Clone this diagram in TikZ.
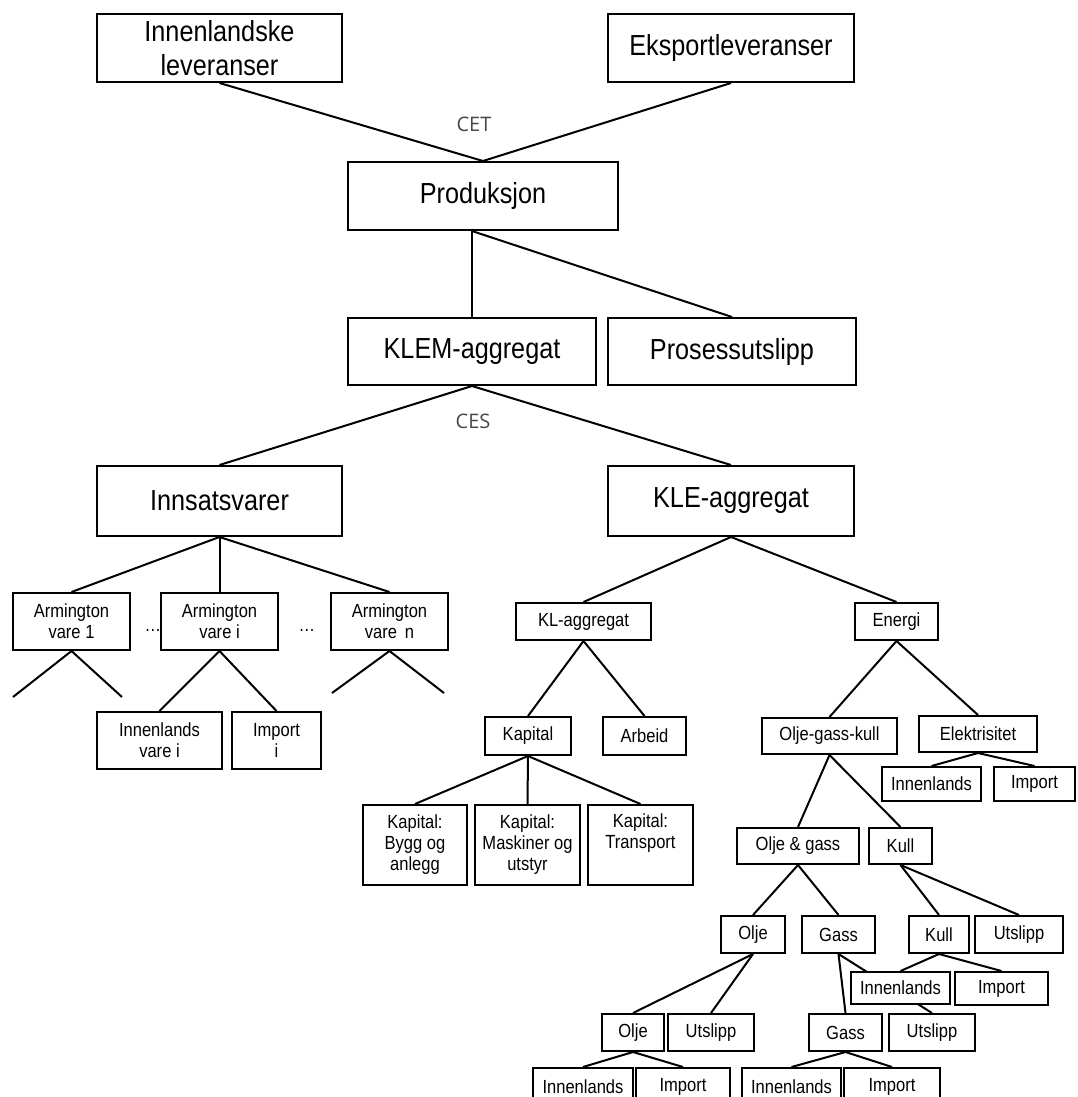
\documentclass[tikz,border=0pt]{standalone}
\usepackage{fontspec}
\setmainfont{Liberation Sans}[FakeStretch=0.87]
\newfontfamily\labelfont{Open Sans}
\usetikzlibrary{backgrounds}
\begin{document}
\begin{tikzpicture}[x=1pt,y=-1pt,
  box/.style={draw=black, line width=2pt, fill=white, inner sep=0pt, align=center},
  big/.style={box, font=\fontsize{29}{34}\selectfont},
  small/.style={box, font=\fontsize{19}{21}\selectfont},
  link/.style={line width=2pt, black},
  elast/.style={font=\labelfont\fontsize{20}{22}\selectfont, text=black!72},
  dots/.style={font=\fontsize{19}{20}\selectfont, inner sep=0pt}]
\useasboundingbox (0,0) rectangle (1078,1097);

% top level
\node[big, minimum width=245pt, minimum height=68pt] (inn)  at (219.5,48) {Innenlandske\\leveranser};
\node[big, minimum width=246pt, minimum height=68pt] (eks)  at (731,48)   {Eksportleveranser};
\node[big, minimum width=270pt, minimum height=68pt] (prod) at (483,196)  {Produksjon};
\node[big, minimum width=248pt, minimum height=67pt] (klem) at (472,351.5) {KLEM-aggregat};
\node[big, minimum width=248pt, minimum height=67pt] (pros) at (732,351.5) {Prosessutslipp};
\node[big, minimum width=245pt, minimum height=70pt] (innsats) at (219.5,501) {Innsatsvarer};
\node[big, minimum width=246pt, minimum height=70pt] (kle)  at (731,501)  {KLE-aggregat};

\node[elast] (cet) at (474,124) {CET};
\node[elast] (ces) at (473,421) {CES};

% intermediate goods
\node[dots] (d1) at (153,630) {…};
\node[dots] (d2) at (307,630) {…};
\node[small, minimum width=117pt, minimum height=57pt] (arm1) at (71.5,621.5)  {Armington\\vare 1};
\node[small, minimum width=117pt, minimum height=57pt] (armi) at (219.5,621.5) {Armington\\vare i};
\node[small, minimum width=117pt, minimum height=57pt] (armn) at (389.5,621.5) {Armington\\vare\, n};
\node[small, minimum width=125pt, minimum height=57pt] (innv) at (159.5,740.5) {Innenlands\\vare i};
\node[small, minimum width=89pt,  minimum height=57pt] (impi) at (276.5,740.5) {Import\\i};
\coordinate (a1l) at (13,697);
\coordinate (a1r) at (122,697);
\coordinate (anl) at (332,693);
\coordinate (anr) at (444,693);

% capital and labour
\node[small, minimum width=135pt, minimum height=37pt] (kl)   at (583.5,621.5) {KL-aggregat};
\node[small, minimum width=86pt,  minimum height=38pt] (kap)  at (528,736)     {Kapital};
\node[small, minimum width=83pt,  minimum height=38pt] (arb)  at (644.5,736)   {Arbeid};
\node[small, minimum width=104pt, minimum height=80pt] (kbygg)  at (415,845)   {Kapital:\\Bygg og\\anlegg};
\node[small, minimum width=105pt, minimum height=80pt] (kmask)  at (527.5,845) {Kapital:\\Maskiner og\\utstyr};
\node[small, minimum width=105pt, minimum height=80pt] (ktrans) at (640.5,845) {Kapital:\\Transport\\\strut};

% energy
\node[small, minimum width=83pt,  minimum height=37pt] (energi) at (896.5,621.5) {Energi};
\node[small, minimum width=135pt, minimum height=36pt] (ogk)  at (829.5,736)  {Olje-gass-kull};
\node[small, minimum width=118pt, minimum height=36pt] (elek) at (978,734)    {Elektrisitet};
\node[small, minimum width=99pt,  minimum height=34pt] (inne) at (931.5,784)  {Innenlands};
\node[small, minimum width=81pt,  minimum height=34pt] (impe) at (1034.5,784) {Import};
\node[small, minimum width=122pt, minimum height=36pt] (og)    at (798,846)   {Olje \& gass};
\node[small, minimum width=63pt,  minimum height=36pt] (kull1) at (900.5,846) {Kull};
\node[small, minimum width=64pt,  minimum height=37pt] (olje1) at (753,934.5)  {Olje};
\node[small, minimum width=73pt,  minimum height=37pt] (gass1) at (838.5,934.5) {Gass};
\node[small, minimum width=60pt,  minimum height=37pt] (kull2) at (939,934.5)  {Kull};
\node[small, minimum width=88pt,  minimum height=37pt] (uts1)  at (1019,934.5) {Utslipp};
\node[small, minimum width=99pt,  minimum height=32pt] (innk)  at (900.5,988)  {Innenlands};
\node[small, minimum width=93pt,  minimum height=33pt] (impk)  at (1001.5,988.5) {Import};
\node[small, minimum width=73pt,  minimum height=37pt] (gass2) at (845.5,1032.5) {Gass};
\node[small, minimum width=86pt,  minimum height=37pt] (uts2)  at (932,1032.5)   {Utslipp};
\node[small, minimum width=62pt,  minimum height=37pt] (olje2) at (633,1032.5)   {Olje};
\node[small, minimum width=86pt,  minimum height=37pt] (uts3)  at (711,1032.5)   {Utslipp};
\node[small, minimum width=100pt, minimum height=37pt] (inno)  at (583,1086.5)   {Innenlands};
\node[small, minimum width=94pt,  minimum height=37pt] (impo)  at (683,1086.5)   {Import};
\node[small, minimum width=99pt,  minimum height=37pt] (inng)  at (791.5,1086.5) {Innenlands};
\node[small, minimum width=96pt,  minimum height=37pt] (impg)  at (892,1086.5)   {Import};

\coordinate (pj) at (prod.south -| klem.north);

% connectors, drawn beneath the boxes
\begin{scope}[on background layer]
\draw[link] (inn.south) -- (prod.north);
\draw[link] (eks.south) -- (prod.north);
\draw[link] (pj) -- (klem.north);
\draw[link] (pj) -- (pros.north);
\draw[link] (klem.south) -- (innsats.north);
\draw[link] (klem.south) -- (kle.north);
\draw[link] (innsats.south) -- (arm1.north);
\draw[link] (innsats.south) -- (armi.north);
\draw[link] (innsats.south) -- (armn.north);
\draw[link] (arm1.south) -- (a1l);
\draw[link] (arm1.south) -- (a1r);
\draw[link] (armn.south) -- (anl);
\draw[link] (armn.south) -- (anr);
\draw[link] (armi.south) -- (innv.north);
\draw[link] (armi.south) -- (impi.north);
\draw[link] (kle.south) -- (kl.north);
\draw[link] (kle.south) -- (energi.north);
\draw[link] (kl.south) -- (kap.north);
\draw[link] (kl.south) -- (arb.north);
\draw[link] (kap.south) -- (kbygg.north);
\draw[link] (kap.south) -- (kmask.north);
\draw[link] (kap.south) -- (ktrans.north);
\draw[link] (energi.south) -- (ogk.north);
\draw[link] (energi.south) -- (elek.north);
\draw[link] (elek.south) -- (inne.north);
\draw[link] (elek.south) -- (impe.north);
\draw[link] (ogk.south) -- (og.north);
\draw[link] (ogk.south) -- (kull1.north);
\draw[link] (og.south) -- (olje1.north);
\draw[link] (og.south) -- (gass1.north);
\draw[link] (kull1.south) -- (kull2.north);
\draw[link] (kull1.south) -- (uts1.north);
\draw[link] (kull2.south) -- (innk.north);
\draw[link] (kull2.south) -- (impk.north);
\draw[link] (gass1.south) -- (uts2.north);
\draw[link] (gass1.south) -- (gass2.north);
\draw[link] (olje1.south) -- (olje2.north);
\draw[link] (olje1.south) -- (uts3.north);
\draw[link] (olje2.south) -- (inno.north);
\draw[link] (olje2.south) -- (impo.north);
\draw[link] (gass2.south) -- (inng.north);
\draw[link] (gass2.south) -- (impg.north);
\end{scope}
\end{tikzpicture}
\end{document}
